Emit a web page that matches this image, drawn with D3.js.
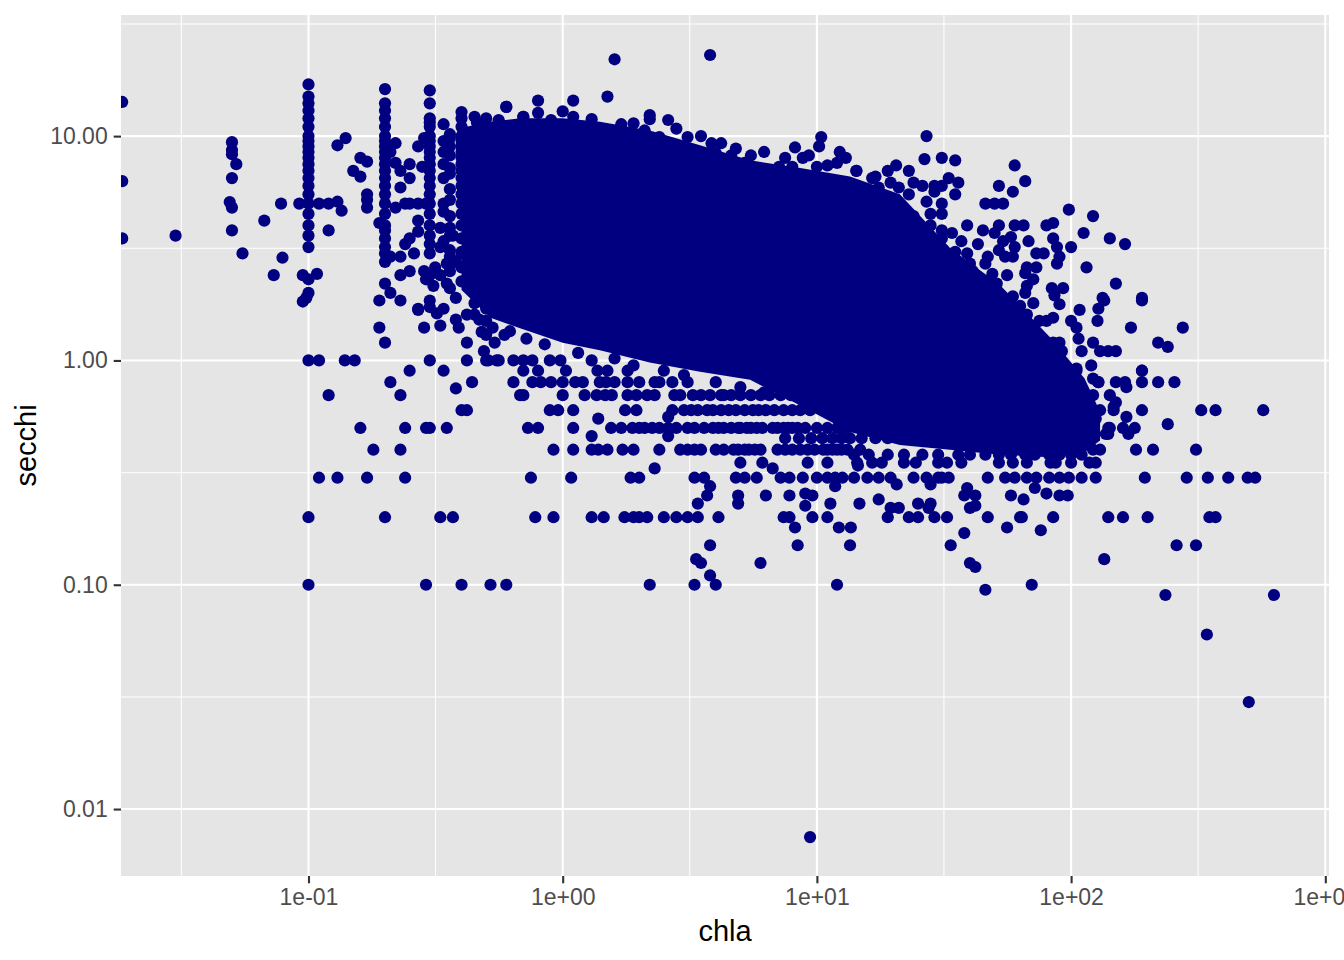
<!DOCTYPE html>
<html>
<head>
<meta charset="utf-8">
<script src="https://cdn.jsdelivr.net/npm/d3@7"></script>
<style>
html, body { margin: 0; padding: 0; background: #fff; }
svg { display: block; }
text { font-family: "Liberation Sans", Arial, sans-serif; }
</style>
</head>
<body>
<svg id="chart" width="1344" height="960"></svg>
<script>
// ticks
var xTicks = [0.1, 1, 10, 100, 1000];
var xTickLabels = ["1e-01", "1e+00", "1e+01", "1e+02", "1e+03"];
var xMinor = [0.0316, 0.316, 3.16, 31.6, 316];
var yTicks = [0.01, 0.1, 1, 10];
var yTickLabels = ["0.01", "0.10", "1.00", "10.00"];
var yMinor = [0.0316, 0.316, 3.16, 31.6];

// the middle of the cloud is too overplotted to read single points,
// so it is kept as an upper/lower envelope
var coreChla  = [0.4, 0.52, 0.68, 1, 1.4, 2.2, 3.47, 5.46, 8.6, 13.5, 21.2, 33.4, 52.5, 82.6, 113, 130];
var coreUpper = [10.9, 11.6, 12, 12, 11.6, 10.6, 9.1, 7.8, 7.2, 6.6, 5.5, 3.17, 2.17, 1.27, 0.83, 0.59];
var coreLower = [2.06, 1.55, 1.39, 1.2, 1.11, 0.98, 0.89, 0.82, 0.63, 0.48, 0.42, 0.4, 0.38, 0.37, 0.39, 0.44];

// secchi was often recorded to one digit, so many points sit on rows
var rowSecchi = [0.1, 0.2, 0.3, 0.35, 0.38, 0.4, 0.45, 0.5, 0.6, 0.7, 0.8, 0.9, 1];
var rowChla = [
  [0.1, 0.29, 0.4, 0.52, 0.6, 2.2, 3.3, 4, 12, 70],
  [0.1, 0.2, 0.33, 0.37, 0.78, 0.92, 1.3, 1.45, 1.75, 1.9, 2, 2.15, 2.5, 2.8, 3.1, 3.4, 4.1, 7.4, 7.8, 9.6, 11, 19, 23, 25, 29, 32.5, 47, 63, 85, 140, 160, 200, 350, 370],
  [0.11, 0.13, 0.17, 0.24, 0.75, 1.08, 1.85, 2, 3.3, 3.6, 4.8, 5.2, 5.8, 7.2, 7.8, 8.8, 10, 11, 11.8, 12.6, 14, 15.8, 17.5, 19.5, 24, 27, 30, 31, 33, 47, 55, 60, 67, 73, 82, 90, 98, 110, 125, 195, 285, 345, 415, 495, 530],
  [5, 6.1, 9.2, 11, 14.4, 16.5, 18, 22, 24.5, 30, 32.5, 37, 52, 59, 67, 83, 87, 100, 118, 125],
  [14, 16, 19, 22, 26, 30, 36, 40, 46, 52, 58, 66, 72, 82, 90, 100, 110],
  [0.18, 0.23, 0.92, 1.1, 1.3, 1.38, 1.5, 1.72, 1.9, 2.4, 2.9, 3.1, 3.3, 3.5, 4, 4.3, 4.7, 4.9, 5.2, 5.4, 5.7, 6, 7, 7.5, 8, 8.6, 9.2, 9.8, 10.6, 11, 11.5, 12, 12.5, 13.2, 14.8, 130, 180, 210, 310],
  [7.5, 8.5, 9.5, 10.5, 11.5, 12.5, 13.5, 15, 17, 19],
  [0.16, 0.24, 0.29, 0.3, 0.35, 0.73, 0.8, 1.1, 1.55, 1.7, 1.88, 2, 2.1, 2.25, 2.4, 2.6, 2.8, 3.1, 3.3, 3.6, 3.9, 4.1, 4.3, 4.6, 4.9, 5, 5.3, 5.5, 5.8, 6.1, 6.7, 7, 7.4, 7.7, 8, 8.4, 9, 10, 11, 12, 13, 142, 140, 160, 178],
  [0.4, 0.42, 0.89, 0.96, 1.1, 1.76, 1.95, 2.7, 3, 3.2, 3.4, 3.7, 3.9, 4.2, 4.5, 4.8, 5.2, 5.6, 5.9, 6.3, 6.8, 7.4, 8, 8.6, 9.4, 130, 147, 190, 325, 370, 570],
  [0.12, 0.23, 0.68, 0.7, 1, 1.22, 1.36, 1.47, 1.56, 1.8, 1.95, 2.15, 2.3, 2.75, 2.9, 3.25, 3.5, 3.8, 4.2, 4.3, 4.6, 5, 5.5, 6, 6.5, 7.2, 7.9, 8.6, 122, 142],
  [0.21, 0.44, 0.64, 0.76, 0.82, 0.9, 1, 1.12, 1.2, 1.4, 1.48, 1.6, 1.8, 2, 2.3, 2.4, 2.7, 3.1, 128, 150, 163, 190, 220, 255],
  [0.25, 0.34, 0.7, 0.8, 1.03, 1.37, 1.5, 1.8, 190, 105],
  [0.1, 0.11, 0.139, 0.152, 0.3, 0.42, 0.5, 0.51, 0.55, 0.56, 0.64, 0.7, 0.76, 0.89, 0.98, 1.3, 80]
];

// low chla was reported in steps too, which draws columns
var columnChla = [0.1, 0.2, 0.3, 0.4, 0.45, 0.5, 0.34, 0.36];
var columnSecchi = [
  [17, 15, 14, 13, 12, 11, 10, 9.5, 9, 8.5, 8, 7.5, 7, 6.5, 6, 5.5, 5, 4.5, 4, 3.6, 3.2],
  [16.2, 14, 13, 12, 11, 10, 9.5, 9, 8.5, 8, 7.5, 7, 6.5, 6, 5.5, 5, 4.5, 4, 3.8, 3.5, 3.2, 3, 2.75],
  [16, 14, 12, 11.5, 11, 10, 9.5, 9, 8.5, 8, 7.5, 7, 6.5, 6, 5.5, 5, 4.5, 4, 3.6, 3.3, 3],
  [12.8, 12, 11, 10, 9.5, 9, 8.5, 8, 7.5, 7, 6.5, 6, 5.5, 5, 4.5, 4, 3.5, 3, 2.6],
  [12.2, 10.5, 9, 8, 7, 6, 5.5, 4.8, 4.2, 3.7, 3.2, 2.8, 2.5, 2.2, 2, 1.8, 1.6],
  [12, 11, 10, 9, 8.5, 8, 7, 6.5, 6, 5, 4.5, 4, 3.5, 3, 2.7, 2.4, 2.1, 1.9, 1.7, 1.5, 1.3],
  [9.5, 8.5, 7.5, 6.5, 5, 4.6, 3.4],
  [10.2, 9, 8.2, 7.2, 6.8, 5.8, 5.2, 4.4, 3.9, 3.6, 3.1, 2.9, 2.5, 2.1]
];

// everything else, [chla, secchi]
var loosePoints = [
  [0.0185, 14.2], [0.0185, 6.3], [0.0185, 3.5], [0.03, 3.6], [0.05, 9.4], [0.05, 8.67], [0.05, 8.3], [0.052, 7.5],
  [0.05, 6.5], [0.049, 5.08], [0.05, 4.8], [0.05, 3.8], [0.055, 3], [0.067, 4.2], [0.078, 5], [0.079, 2.87],
  [0.073, 2.4], [0.095, 2.4], [0.1, 2.3], [0.108, 2.43], [0.1, 2], [0.098, 1.9], [0.095, 1.83], [0.092, 5],
  [0.11, 5], [0.12, 5], [0.13, 5.1], [0.135, 4.65], [0.12, 3.8], [0.14, 9.8], [0.13, 9.1], [0.16, 8], [0.17, 7.7],
  [0.15, 7], [0.16, 6.6], [0.17, 5.5], [0.17, 5.2], [0.17, 4.8], [0.19, 4.1], [0.21, 2.9], [0.23, 2.9], [0.22, 9.3],
  [0.21, 8.5], [0.22, 7.6], [0.23, 7], [0.25, 7.5], [0.25, 6.5], [0.23, 5.9], [0.22, 4.8], [0.24, 5], [0.25, 5],
  [0.27, 5], [0.29, 5], [0.27, 4.2], [0.27, 3.75], [0.25, 3.5], [0.24, 3.3], [0.26, 3], [0.23, 2.4], [0.25, 2.5],
  [0.2, 2.2], [0.21, 2], [0.19, 1.85], [0.23, 1.85], [0.3, 1.85], [0.27, 1.7], [0.34, 11.3], [0.33, 3.9], [0.33, 3.2],
  [0.37, 3.6], [0.46, 11.5], [0.56, 11.6], [0.6, 13.5], [0.7, 12.2], [0.36, 9.8], [0.27, 9], [0.285, 9.8], [0.28, 7.3],
  [0.38, 2.75], [0.4, 3.05], [0.35, 2.7], [0.4, 2.25], [0.38, 1.9], [0.3, 2.4], [0.315, 2.6], [0.29, 2.3], [0.35, 2.2],
  [0.33, 2.4], [0.285, 2.5], [0.31, 2.15], [0.27, 1.68], [0.3, 1.73], [0.32, 1.62], [0.34, 1.7], [0.38, 1.52], [0.42, 1.6],
  [0.47, 1.52], [0.48, 1.34], [0.53, 1.4], [0.59, 1.3], [0.2, 1.2], [0.42, 1.2], [0.19, 1.4], [0.285, 1.4], [0.33, 1.43],
  [0.39, 1.4], [0.49, 1.1], [0.54, 1.2], [0.38, 0.75], [1.38, 0.55], [1.3, 0.46], [2.6, 0.56], [2.6, 0.46], [2.3, 0.33],
  [6.7, 0.33], [14.5, 0.34], [3.4, 0.23], [3.8, 0.275], [3.7, 0.25], [4.9, 0.25], [4.9, 0.23], [6.3, 0.25], [7.8, 0.25],
  [9, 0.255], [9.6, 0.25], [9, 0.225], [11.3, 0.23], [14.7, 0.23], [17.5, 0.24], [8.2, 0.18], [12.2, 0.18], [13.6, 0.18],
  [3.8, 0.15], [8.4, 0.15], [13.5, 0.15], [3.35, 0.13], [3.5, 0.125], [6, 0.125], [3.8, 0.11], [33.6, 0.15], [38, 0.17],
  [56, 0.18], [76, 0.175], [40, 0.125], [42, 0.12], [46, 0.095], [135, 0.13], [235, 0.09], [260, 0.15], [310, 0.15],
  [19.5, 0.22], [21, 0.22], [25, 0.23], [28, 0.23], [27.5, 0.22], [38, 0.25], [42, 0.25], [42, 0.225], [40, 0.22],
  [58, 0.25], [65, 0.24], [64, 0.2], [80, 0.255], [90, 0.25], [97, 0.25], [20.6, 0.28], [28, 0.28], [39, 0.27], [72, 0.27],
  [11.8, 0.275], [168, 0.47], [140, 0.47], [137, 0.47], [240, 0.52], [165, 0.56], [125, 0.55], [123, 0.48], [122, 0.4],
  [165, 0.76], [190, 0.9], [120, 0.95], [110, 1.1], [130, 1.1], [140, 1.1], [150, 1.1], [122, 1.2], [107, 1.25], [105, 1.4],
  [100, 1.5], [127, 1.5], [108, 1.68], [128, 1.7], [135, 1.85], [190, 1.85], [90, 1.78], [172, 1.4], [220, 1.2], [240, 1.15],
  [275, 1.4], [85, 1.2], [90, 1.2], [92, 1.1], [93, 0.97], [105, 0.92], [122, 0.83], [128, 0.8], [150, 0.65], [147, 0.62],
  [27, 10], [26.5, 7.9], [31, 8], [35, 7.8], [60, 7.4], [66, 6.3], [52, 6], [59, 5.65], [46, 5], [50, 5], [54, 5], [98, 4.7],
  [122, 4.4], [112, 3.7], [142, 3.5], [163, 3.3], [85, 4.1], [80, 4], [65, 4], [60, 4], [52, 4], [39, 4], [45, 3.8], [50, 3.7],
  [34, 3.7], [100, 3.2], [68, 3.4], [85, 3.5], [43, 3.3], [58, 3.55], [54, 3.4], [52, 3.1], [55, 2.9], [59, 2.9], [60, 3.2],
  [88, 3.2], [73, 3], [78, 3], [90, 2.9], [88, 2.7], [115, 2.6], [150, 2.2], [190, 1.9], [133, 1.9], [73, 2.6], [67, 2.6],
  [66, 2.45], [71, 2.3], [67, 2.15], [56, 2.4], [47, 2.9], [46, 2.7], [84, 2.1], [93, 2.1], [86, 1.95], [71, 1.8], [67, 1.6],
  [85, 1.55], [80, 1.5], [14.3, 7], [19, 7], [20.5, 7.4], [23, 7], [16.5, 6.5], [19.5, 6.2], [21, 5.9], [24, 6.2], [26, 6],
  [29, 6], [33, 6.5], [36, 6.2], [31, 6], [35, 5.5], [29, 5.65], [23, 5.5], [27, 5.1], [31, 5], [31, 4.5], [28, 4.5], [25, 4],
  [28, 4], [31, 3.8], [26, 3.5], [31, 3.5], [37, 3.4], [28, 3.2], [31.5, 3.1], [39, 3], [35, 3.05], [34, 2.7], [41, 2.5],
  [49, 2.43], [51, 2.2], [59, 1.93], [66, 2], [1.6, 22], [3.8, 23], [1.5, 15], [1.1, 14.4], [0.8, 14.4], [0.6, 13.5], [1, 12.9],
  [0.7, 12.2], [0.56, 11.8], [0.8, 12.7], [0.9, 11.8], [1.1, 12.2], [1.3, 11.9], [1.7, 11.3], [1.9, 11.4], [2.2, 12.4], [2.2, 11.9],
  [2.6, 11.8], [2.8, 10.8], [2.1, 10.6], [2.4, 9.9], [3.1, 9.9], [3.5, 10], [3.85, 9.3], [4.2, 9.3], [4.8, 8.8], [4, 8.4], [4.6, 8.2],
  [5.5, 8.2], [6.2, 8.5], [5.2, 7.6], [7.1, 7.3], [7.5, 8], [8.2, 8.9], [9.3, 8.2], [8.8, 8], [10.2, 9], [10.4, 9.9], [12.3, 8.5],
  [13, 8], [10, 7.3], [11, 7.4], [14.3, 7], [17, 6.6], [8, 7.3], [6.3, 6.9], [12, 7.6], [342, 0.06], [500, 0.03], [628, 0.09], [9.4, 0.0075],
  // lumps along the lower and upper edge of the solid part
  [0.62, 1.35], [0.72, 1.25], [0.85, 1.18], [1.15, 1.08], [1.6, 1.02], [1.9, 0.95], [2.5, 0.9], [3, 0.86], [4, 0.8], [5, 0.76], [6.2, 0.72],
  [17.5, 5.9], [24, 4.4], [27, 3.6], [30, 3.1], [40, 2.7], [63, 1.75], [75, 1.5]
];

var WIDTH = 1344, HEIGHT = 960,
MARGINS = { top: 15, right: 15, bottom: 84, left: 121 };

var vis = d3.select("#chart");

var xScale = d3.scaleLog()
    .domain([0.0183, 1034])
    .range([MARGINS.left, WIDTH - MARGINS.right]);

var yScale = d3.scaleLog()
    .domain([0.00503, 34.67])
    .range([HEIGHT - MARGINS.bottom, MARGINS.top]);

vis.append("defs").append("clipPath").attr("id", "panel")
    .append("rect")
    .attr("x", MARGINS.left).attr("y", MARGINS.top)
    .attr("width", WIDTH - MARGINS.left - MARGINS.right)
    .attr("height", HEIGHT - MARGINS.top - MARGINS.bottom);

vis.append("rect")
    .attr("x", MARGINS.left).attr("y", MARGINS.top)
    .attr("width", WIDTH - MARGINS.left - MARGINS.right)
    .attr("height", HEIGHT - MARGINS.top - MARGINS.bottom)
    .attr("fill", "#E5E5E5");

function grid(values, scale, vertical, width) {
    vis.append("g").selectAll("line").data(values).enter().append("line")
        .attr("x1", function (d) { return vertical ? scale(d) : MARGINS.left; })
        .attr("x2", function (d) { return vertical ? scale(d) : WIDTH - MARGINS.right; })
        .attr("y1", function (d) { return vertical ? MARGINS.top : scale(d); })
        .attr("y2", function (d) { return vertical ? HEIGHT - MARGINS.bottom : scale(d); })
        .attr("stroke", "#fff")
        .attr("stroke-width", width);
}
grid(xMinor, xScale, true, 1.05);
grid(yMinor, yScale, false, 1.05);
grid(xTicks, xScale, true, 2.1);
grid(yTicks, yScale, false, 2.1);

// flatten rows, columns and loose points into one list of marks
var points = [];
rowSecchi.forEach(function (s, i) {
    rowChla[i].forEach(function (c) { points.push({ chla: c, secchi: s }); });
});
columnChla.forEach(function (c, i) {
    columnSecchi[i].forEach(function (s) { points.push({ chla: c, secchi: s }); });
});
loosePoints.forEach(function (p) { points.push({ chla: p[0], secchi: p[1] }); });

var plot = vis.append("g").attr("clip-path", "url(#panel)");

var coreArea = d3.area()
    .x(function (d, i) { return xScale(coreChla[i]); })
    .y0(function (d, i) { return yScale(coreLower[i]); })
    .y1(function (d, i) { return yScale(coreUpper[i]); });

plot.append("path")
    .attr("d", coreArea(coreChla))
    .attr("fill", "#000080");

plot.selectAll("circle").data(points).enter().append("circle")
    .attr("cx", function (d) { return xScale(d.chla); })
    .attr("cy", function (d) { return yScale(d.secchi); })
    .attr("r", 6.1)
    .attr("fill", "#000080");

var xAxis = d3.axisBottom(xScale)
    .tickValues(xTicks)
    .tickFormat(function (d, i) { return xTickLabels[i]; })
    .tickSize(7.3)
    .tickPadding(5.5);

var yAxis = d3.axisLeft(yScale)
    .tickValues(yTicks)
    .tickFormat(function (d, i) { return yTickLabels[i]; })
    .tickSize(7.3)
    .tickPadding(6);

var gx = vis.append("g")
    .attr("transform", "translate(0," + (HEIGHT - MARGINS.bottom) + ")")
    .call(xAxis);

var gy = vis.append("g")
    .attr("transform", "translate(" + MARGINS.left + ",0)")
    .call(yAxis);

[gx, gy].forEach(function (g) {
    g.select(".domain").remove();
    g.selectAll(".tick line").attr("stroke", "#333333").attr("stroke-width", 2.1);
    g.selectAll(".tick text")
        .attr("fill", "#4D4D4D")
        .style("font-size", "23px")
        .style("font-family", '"Liberation Sans", Arial, sans-serif');
});

vis.append("text")      // text label for the x axis
    .attr("x", (MARGINS.left + WIDTH - MARGINS.right) / 2)
    .attr("y", 941)
    .style("text-anchor", "middle")
    .style("font-size", "29px")
    .attr("fill", "#000")
    .text("chla");

vis.append("text")
    .attr("transform", "rotate(-90)")
    .attr("x", -(MARGINS.top + HEIGHT - MARGINS.bottom) / 2)
    .attr("y", 36)
    .style("text-anchor", "middle")
    .style("font-size", "29px")
    .attr("fill", "#000")
    .text("secchi");
</script>
</body>
</html>
